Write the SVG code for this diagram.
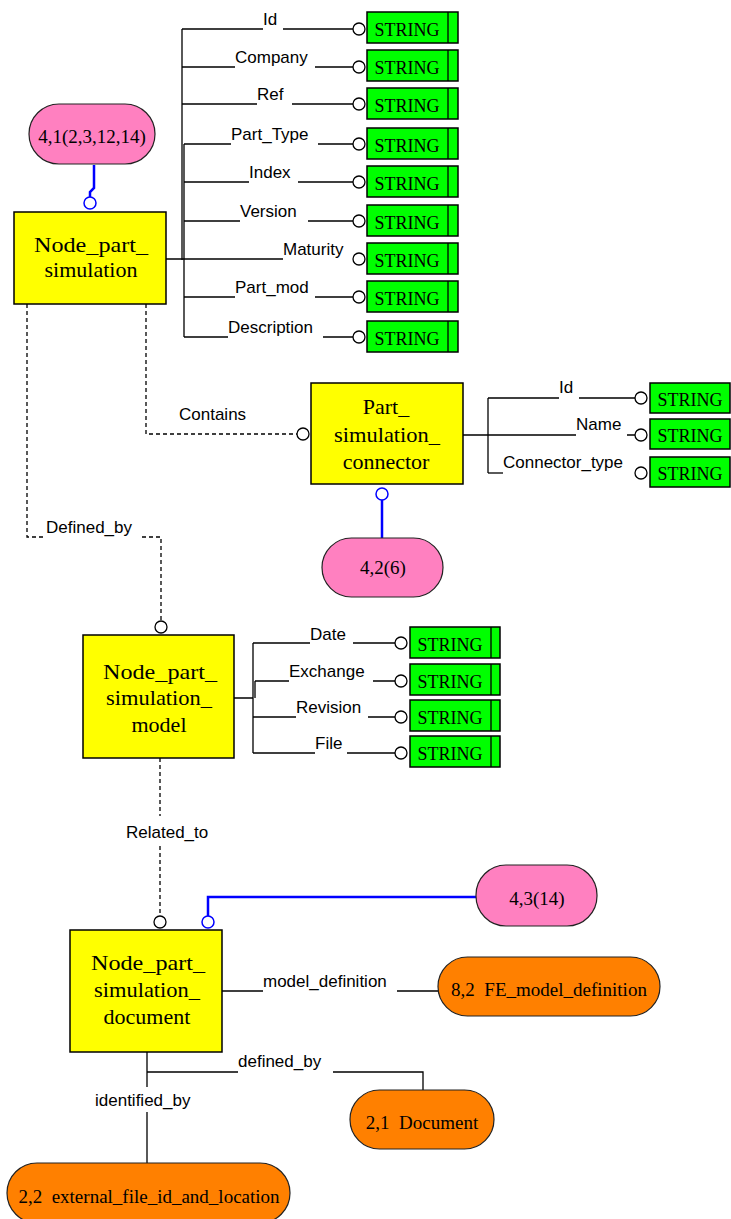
<svg xmlns="http://www.w3.org/2000/svg" width="731" height="1219" viewBox="0 0 731 1219">
<style>
.bg{fill:#fff}
.ent{fill:#ffff00;stroke:#000;stroke-width:1.5}
.str{fill:#00ff00;stroke:#000;stroke-width:1.5}
.pink{fill:#ff80c0;stroke:#222;stroke-width:1.2}
.orng{fill:#ff8000;stroke:#222;stroke-width:1.2}
.ln{fill:none;stroke:#000;stroke-width:1.3}
.dash{fill:none;stroke:#000;stroke-width:1.3;stroke-dasharray:4 3}
.blue{fill:none;stroke:#0000ff;stroke-width:2.5}
.oc{fill:#fff;stroke:#000;stroke-width:1.3}
.bc{fill:#fff;stroke:#0000ff;stroke-width:1.5}
.lbl{font-family:"Liberation Sans",Arial,sans-serif;font-size:17px;fill:#000}
.nt{font-family:"Liberation Serif","Times New Roman",serif;font-size:22px;fill:#000;text-anchor:middle}
.st{font-family:"Liberation Serif","Times New Roman",serif;font-size:18px;fill:#000;text-anchor:middle}
.rt{font-family:"Liberation Serif","Times New Roman",serif;font-size:19px;fill:#000;text-anchor:middle}
</style>
<rect class="bg" x="0" y="0" width="731" height="1219"/>

<g id="connectors">
  <path class="ln" d="M182,29 V260 M184,144 V337"/>
  <path class="ln" d="M182,29 H263 M283,29 H353"/>
  <path class="ln" d="M182,67 H235 M315,67 H353"/>
  <path class="ln" d="M182,104 H257 M292,104 H353"/>
  <path class="ln" d="M184,144 H231 M318,144 H353"/>
  <path class="ln" d="M184,182 H249 M298,182 H353"/>
  <path class="ln" d="M184,221 H240 M308,221 H353"/>
  <path class="ln" d="M166,259 H283"/>
  <path class="ln" d="M184,297 H235 M315,297 H353"/>
  <path class="ln" d="M184,337 H228 M323,337 H353"/>
  <path class="blue" d="M94,165 V188 L90,192 V197"/>
  <path class="dash" d="M146,304 V434 H297"/>
  <path class="dash" d="M27,304 V537 H46 M142,537 H161 V621"/>
  <path class="ln" d="M488,398 V473"/>
  <path class="ln" d="M488,398 H559 M579,398 H635"/>
  <path class="ln" d="M463,435 H576 M627,435 H635"/>
  <path class="ln" d="M488,473 H503"/>
  <path class="blue" d="M382,500 V538"/>
  <path class="ln" d="M234,698 H253 M253,643 V753 M255,681 V698"/>
  <path class="ln" d="M253,643 H310 M353,643 H395"/>
  <path class="ln" d="M255,681 H289 M373,681 H395"/>
  <path class="ln" d="M253,717 H296 M368,717 H395"/>
  <path class="ln" d="M253,753 H315 M347,753 H395"/>
  <path class="dash" d="M160,758 V816 M160,846 V916"/>
  <path class="blue" d="M208,916 V897 H476"/>
  <path class="ln" d="M222,991 H263 M397,991 H438"/>
  <path class="ln" d="M147,1052 V1087 M147,1072 H238 M333,1072 H423 V1090 M147,1112 V1163"/>
  <text class="lbl" x="263" y="25">Id</text>
  <text class="lbl" x="235" y="63">Company</text>
  <text class="lbl" x="257" y="100">Ref</text>
  <text class="lbl" x="231" y="140">Part_Type</text>
  <text class="lbl" x="249" y="178">Index</text>
  <text class="lbl" x="240" y="217">Version</text>
  <text class="lbl" x="283" y="255">Maturity</text>
  <text class="lbl" x="235" y="293">Part_mod</text>
  <text class="lbl" x="228" y="333">Description</text>
  <text class="lbl" x="179" y="420">Contains</text>
  <text class="lbl" x="46" y="533">Defined_by</text>
  <text class="lbl" x="559" y="393">Id</text>
  <text class="lbl" x="576" y="430">Name</text>
  <text class="lbl" x="503" y="468">Connector_type</text>
  <text class="lbl" x="310" y="640">Date</text>
  <text class="lbl" x="289" y="677">Exchange</text>
  <text class="lbl" x="296" y="713">Revision</text>
  <text class="lbl" x="315" y="749">File</text>
  <text class="lbl" x="126" y="838">Related_to</text>
  <text class="lbl" x="263" y="987">model_definition</text>
  <text class="lbl" x="238" y="1067">defined_by</text>
  <text class="lbl" x="95" y="1106">identified_by</text>
  <circle class="oc" cx="359" cy="29" r="6"/>
  <circle class="oc" cx="359" cy="67" r="6"/>
  <circle class="oc" cx="359" cy="104" r="6"/>
  <circle class="oc" cx="359" cy="144" r="6"/>
  <circle class="oc" cx="359" cy="182" r="6"/>
  <circle class="oc" cx="359" cy="221" r="6"/>
  <circle class="oc" cx="359" cy="259" r="6"/>
  <circle class="oc" cx="359" cy="297" r="6"/>
  <circle class="oc" cx="359" cy="337" r="6"/>
  <circle class="bc" cx="90" cy="203" r="6"/>
  <circle class="oc" cx="303" cy="434" r="6"/>
  <circle class="oc" cx="161" cy="627" r="6"/>
  <circle class="oc" cx="641" cy="398" r="6"/>
  <circle class="oc" cx="641" cy="435" r="6"/>
  <circle class="oc" cx="641" cy="473" r="6"/>
  <circle class="bc" cx="382" cy="494" r="6"/>
  <circle class="oc" cx="401" cy="643" r="6"/>
  <circle class="oc" cx="401" cy="681" r="6"/>
  <circle class="oc" cx="401" cy="717" r="6"/>
  <circle class="oc" cx="401" cy="753" r="6"/>
  <circle class="oc" cx="160" cy="922" r="6"/>
  <circle class="bc" cx="208" cy="922" r="6"/>
</g>

<g id="node_part_simulation">
  <rect class="ent" x="14" y="212" width="152" height="92"/>
  <text class="nt" x="91" y="252" textLength="114" lengthAdjust="spacingAndGlyphs">Node_part_</text>
  <text class="nt" x="91" y="277">simulation</text>
</g>
<g id="ref_4_1">
  <rect class="pink" x="29" y="104" width="126" height="60" rx="30" ry="30"/>
  <text class="rt" x="92" y="143">4,1(2,3,12,14)</text>
</g>

<g id="attr_strings_1">
  <g id="s_id"><rect class="str" x="367" y="12" width="91" height="31"/><line class="ln" x1="448" y1="12" x2="448" y2="43"/><text class="st" x="407" y="36">STRING</text></g>
  <g id="s_company"><rect class="str" x="367" y="50" width="91" height="31"/><line class="ln" x1="448" y1="50" x2="448" y2="81"/><text class="st" x="407" y="74">STRING</text></g>
  <g id="s_ref"><rect class="str" x="367" y="88" width="91" height="31"/><line class="ln" x1="448" y1="88" x2="448" y2="119"/><text class="st" x="407" y="112">STRING</text></g>
  <g id="s_parttype"><rect class="str" x="367" y="128" width="91" height="31"/><line class="ln" x1="448" y1="128" x2="448" y2="159"/><text class="st" x="407" y="152">STRING</text></g>
  <g id="s_index"><rect class="str" x="367" y="166" width="91" height="31"/><line class="ln" x1="448" y1="166" x2="448" y2="197"/><text class="st" x="407" y="190">STRING</text></g>
  <g id="s_version"><rect class="str" x="367" y="205" width="91" height="31"/><line class="ln" x1="448" y1="205" x2="448" y2="236"/><text class="st" x="407" y="229">STRING</text></g>
  <g id="s_maturity"><rect class="str" x="367" y="243" width="91" height="31"/><line class="ln" x1="448" y1="243" x2="448" y2="274"/><text class="st" x="407" y="267">STRING</text></g>
  <g id="s_partmod"><rect class="str" x="367" y="281" width="91" height="31"/><line class="ln" x1="448" y1="281" x2="448" y2="312"/><text class="st" x="407" y="305">STRING</text></g>
  <g id="s_description"><rect class="str" x="367" y="321" width="91" height="31"/><line class="ln" x1="448" y1="321" x2="448" y2="352"/><text class="st" x="407" y="345">STRING</text></g>
</g>

<g id="part_simulation_connector">
  <rect class="ent" x="311" y="383" width="152" height="101"/>
  <text class="nt" x="386" y="414">Part_</text>
  <text class="nt" x="387" y="442" textLength="106" lengthAdjust="spacingAndGlyphs">simulation_</text>
  <text class="nt" x="386" y="469">connector</text>
</g>
<g id="ref_4_2">
  <rect class="pink" x="322" y="538" width="121" height="59" rx="29.5" ry="29.5"/>
  <text class="rt" x="383" y="574">4,2(6)</text>
</g>
<g id="attr_strings_2">
  <g id="c_id"><rect class="str" x="650" y="383" width="80" height="30"/><text class="st" x="690" y="406">STRING</text></g>
  <g id="c_name"><rect class="str" x="650" y="419" width="80" height="30"/><text class="st" x="690" y="442">STRING</text></g>
  <g id="c_type"><rect class="str" x="650" y="457" width="80" height="30"/><text class="st" x="690" y="480">STRING</text></g>
</g>

<g id="node_part_simulation_model">
  <rect class="ent" x="83" y="635" width="151" height="123"/>
  <text class="nt" x="160" y="679" textLength="114" lengthAdjust="spacingAndGlyphs">Node_part_</text>
  <text class="nt" x="159" y="705" textLength="106" lengthAdjust="spacingAndGlyphs">simulation_</text>
  <text class="nt" x="159" y="732">model</text>
</g>
<g id="attr_strings_3">
  <g id="m_date"><rect class="str" x="410" y="627" width="90" height="31"/><line class="ln" x1="491" y1="627" x2="491" y2="658"/><text class="st" x="450" y="651">STRING</text></g>
  <g id="m_exchange"><rect class="str" x="410" y="664" width="90" height="31"/><line class="ln" x1="491" y1="664" x2="491" y2="695"/><text class="st" x="450" y="688">STRING</text></g>
  <g id="m_revision"><rect class="str" x="410" y="700" width="90" height="31"/><line class="ln" x1="491" y1="700" x2="491" y2="731"/><text class="st" x="450" y="724">STRING</text></g>
  <g id="m_file"><rect class="str" x="410" y="736" width="90" height="31"/><line class="ln" x1="491" y1="736" x2="491" y2="767"/><text class="st" x="450" y="760">STRING</text></g>
</g>

<g id="node_part_simulation_document">
  <rect class="ent" x="70" y="930" width="152" height="122"/>
  <text class="nt" x="148" y="970" textLength="114" lengthAdjust="spacingAndGlyphs">Node_part_</text>
  <text class="nt" x="147" y="997" textLength="106" lengthAdjust="spacingAndGlyphs">simulation_</text>
  <text class="nt" x="147" y="1024">document</text>
</g>
<g id="ref_4_3">
  <rect class="pink" x="476" y="865" width="121" height="61" rx="30" ry="30"/>
  <text class="rt" x="537" y="905">4,3(14)</text>
</g>
<g id="fe_model_definition">
  <rect class="orng" x="438" y="957" width="222" height="59" rx="29.5" ry="29.5"/>
  <text class="rt" x="549" y="996" xml:space="preserve">8,2  FE_model_definition</text>
</g>
<g id="document">
  <rect class="orng" x="350" y="1090" width="144" height="59" rx="29.5" ry="29.5"/>
  <text class="rt" x="422" y="1129" xml:space="preserve">2,1  Document</text>
</g>
<g id="external_file_id_and_location">
  <rect class="orng" x="7" y="1163" width="283" height="60" rx="30" ry="30"/>
  <text class="rt" x="149" y="1203" xml:space="preserve">2,2  external_file_id_and_location</text>
</g>
</svg>
